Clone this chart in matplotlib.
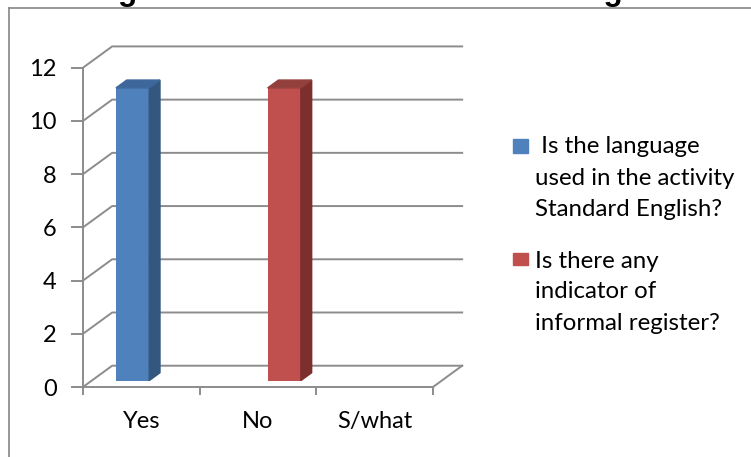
import matplotlib
matplotlib.use("Agg")
import matplotlib.pyplot as plt
from matplotlib.patches import Polygon, Rectangle
from matplotlib.lines import Line2D

# data
categories = ["Yes", "No", "S/what"]
standard_english = [11, 0, 0]
informal_register = [0, 11, 0]
series_values = [standard_english, informal_register]
series_labels = [[" Is the language", "used in the activity", "Standard English?"],
                 ["Is there any", "indicator of", "informal register?"]]
y_ticks = [0, 2, 4, 6, 8, 10, 12]
title = "Figure 3: Standard and informal register"

front_colors = ["#4F81BD", "#C0504D"]
side_colors = ["#34577F", "#7D2F2D"]
top_colors = ["#3D679B", "#93403D"]
grid_color = "#8C8C8C"
font = ["Lato", "DejaVu Sans"]

W, H = 751, 457
fig = plt.figure(figsize=(W / 100, H / 100), dpi=100)
plt.rcParams['font.family'] = font

def fx(px):
    return px / W

def fy(py):
    return 1 - py / H

# pseudo 3d depth in data units
DX, DY = 0.25, 0.8
ux = 350 / 3.0
uy = (387 - 67.7) / 12.0
ax = fig.add_axes([fx(83), fy(387), (3 + DX) * ux / W, (12 + DY) * uy / H])
ax.set_xlim(-0.5, 2.5 + DX)
ax.set_ylim(0, 12 + DY)
ax.patch.set_visible(False)

for s in ["top", "right"]:
    ax.spines[s].set_visible(False)
for s in ["left", "bottom"]:
    ax.spines[s].set_color(grid_color)
    ax.spines[s].set_linewidth(1.4)
ax.spines["left"].set_bounds(0, 12)
ax.spines["bottom"].set_bounds(-0.5, 2.5)

# back wall gridlines with the diagonals to the front axis
for v in y_ticks:
    ax.plot([-0.5, -0.5 + DX, 2.5 + DX], [v, v + DY, v + DY],
            color=grid_color, lw=1.4, zorder=1, clip_on=False)
ax.plot([2.5, 2.5 + DX], [0, DY], color=grid_color, lw=1.4, zorder=1, clip_on=False)

ax.set_yticks(y_ticks)
ax.set_yticklabels([str(v) for v in y_ticks])
ax.tick_params(axis="y", length=9, width=1.4, color=grid_color, pad=10, labelsize=17)
ax.set_xticks([-0.5, 0.5, 1.5, 2.5])
ax.set_xticklabels([])
ax.tick_params(axis="x", which="major", length=6, width=1.4, color=grid_color)
ax.set_xticks(range(len(categories)), minor=True)
ax.set_xticklabels(categories, minor=True)
ax.tick_params(axis="x", which="minor", length=0, pad=17, labelsize=17)

# bars
w = 0.285
offsets = [-0.15, 0.15]
f0, d = 0.3, 0.37
for k, vals in enumerate(series_values):
    for i, v in enumerate(vals):
        if v == 0:
            continue
        xc = i + offsets[k] + f0 * DX
        yb = f0 * DY
        ax.bar(xc, v, width=w, bottom=yb, color=front_colors[k], zorder=3)
        xl, xr, yt = xc - w / 2, xc + w / 2, yb + v
        side = [(xr, yb), (xr + d * DX, yb + d * DY), (xr + d * DX, yt + d * DY), (xr, yt)]
        top = [(xl, yt), (xr, yt), (xr + d * DX, yt + d * DY), (xl + d * DX, yt + d * DY)]
        ax.add_patch(Polygon(side, closed=True, color=side_colors[k], zorder=3))
        ax.add_patch(Polygon(top, closed=True, color=top_colors[k], zorder=3))

# legend
squares = [(139, 153), (253, 265)]
baselines = [[153, 185, 216.5], [267.5, 298.5, 329.5]]
for k in range(2):
    y0, y1 = squares[k]
    fig.add_artist(Rectangle((fx(513), fy(y1)), 15 / W, (y1 - y0) / H,
                             transform=fig.transFigure, color=front_colors[k]))
    for line, b in zip(series_labels[k], baselines[k]):
        fig.text(fx(535), fy(b), line, fontsize=17.3, va="baseline", ha="left")

# chart frame and title (cut by the top edge, as in the source)
fig.add_artist(Line2D([fx(9), fx(9)], [fy(7.5), 0], transform=fig.transFigure,
                      color="#868686", lw=1.2))
fig.add_artist(Line2D([fx(9), 1], [fy(7.5), fy(7.5)], transform=fig.transFigure,
                      color="#868686", lw=1.2))
fig.text(0.518, 1.0, title, ha="center", va="baseline", fontsize=22.6,
         fontweight="bold", family=["Liberation Sans", "DejaVu Sans"])

fig.savefig("out.png", dpi=100)
